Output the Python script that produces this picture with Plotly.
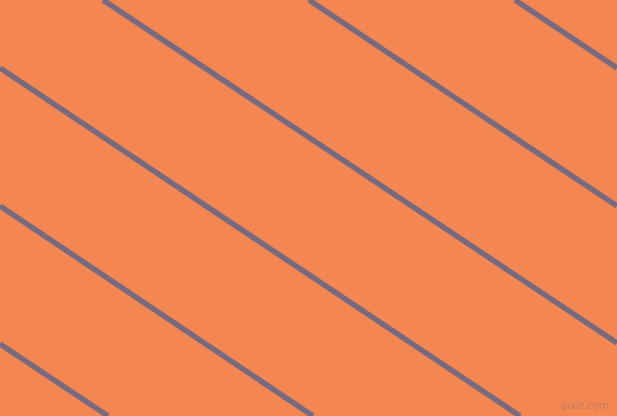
import plotly.graph_objects as go

# diagonal stripes (pixel coords, y down)
x_start = [103, 309, 515, 0, 0, 0]
y_start = [0, 0, 0, 68, 206, 344]
x_end = [617, 617, 617, 520, 313, 108]
y_end = [343, 206, 68, 416, 416, 416]

bg_color = "#F38651"
line_color = "#766A80"

fig = go.Figure()

for x0, y0, x1, y1 in zip(x_start, y_start, x_end, y_end):
    fig.add_trace(go.Scatter(x=[x0, x1], y=[y0, y1], mode="lines",
                             line=dict(color=line_color, width=5.5),
                             hoverinfo="skip", showlegend=False))

# faint watermark in the corner
fig.add_annotation(x=611, y=405, xref="x", yref="y", text="pixiz.com",
                   showarrow=False, xanchor="right", yanchor="middle",
                   font=dict(family="DejaVu Sans", size=10, color="rgba(120,110,120,0.4)"))

fig.update_layout(width=617, height=416, margin=dict(l=0, r=0, t=0, b=0),
                  paper_bgcolor=bg_color, plot_bgcolor=bg_color)
fig.update_xaxes(range=[0, 617], visible=False, fixedrange=True)
fig.update_yaxes(range=[416, 0], visible=False, fixedrange=True)

# drop the default page margin so the chart fills the window
fig.write_html("out.html", post_script="document.body.style.margin='0';",
               config={"displayModeBar": False})
